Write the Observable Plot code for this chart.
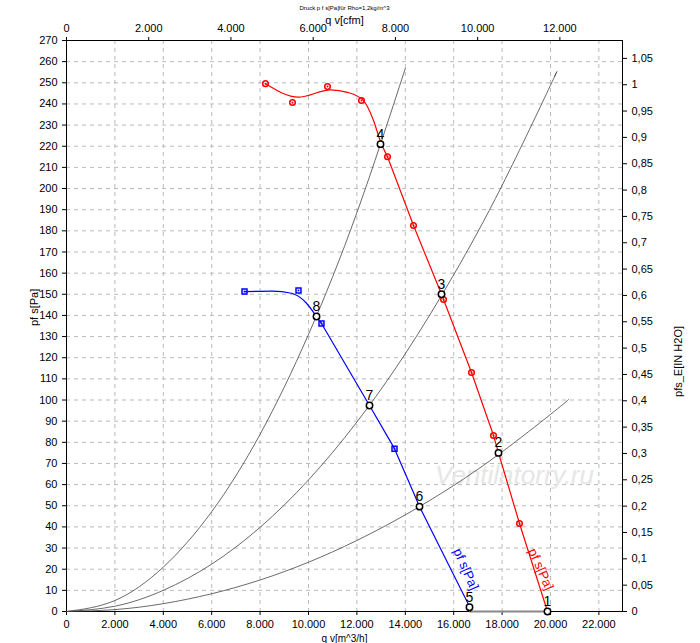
<!DOCTYPE html>
<html><head><meta charset="utf-8">
<script src="https://cdn.jsdelivr.net/npm/d3@7"></script>
<script src="https://cdn.jsdelivr.net/npm/@observablehq/plot@0.6"></script>
<style>body{margin:0;background:#fff;font-family:"Liberation Sans",Arial,sans-serif}</style>
</head><body><div id="c"></div>
<script>
const redHead = [[8223,249.5],[9587,243.2],[10909,246.7],[11612,245.5],[12273,241.6],[12686,232.2],[12975,222.2],[13264,215]];
const redTail = [[13264,215],[14339,182.5],[15496,150],[15579,147.5],[16736,113],[17645,83.2],[17851,75],[18719,41.6],[19876,0]];
const redMarks = [[8223,249.6],[9339,240.7],[10785,248.2],[12190,241.6],[13264,215],[14339,182.5],[15579,147.5],[16736,113],[17645,83.2],[18719,41.6]];
const blueHead = [[7355,151.3],[8500,151.5],[9300,150.5],[9900,146],[10331,139.5],[10537,136.2]];
const blueTail = [[10537,136.2],[12521,97.4],[13554,77],[14587,49.6],[16653,2.4],[16700,0]];
const blueMarks = [[7355,151.3],[9587,151.8],[10537,136.2],[13554,77]];
const sysA = [[0,0],[2000,5.2],[4000,21],[6000,47.2],[8000,83.8],[10000,131],[12000,188.6],[14000,256.8]];
const sysB = [[0,0],[2000,2.5],[4000,10],[6000,22.4],[8000,39.8],[10000,62.2],[12000,89.6],[14000,121.9],[16000,159.2],[18000,201.5],[20000,248.8],[20165,253]];
const sysC = [[0,0],[2000,0.9],[4000,3.7],[6000,8.4],[8000,14.9],[10000,23.3],[12000,33.6],[14000,45.7],[16000,59.6],[18000,75.5],[20000,93.2],[20744,100.2]];
const ops = [{n:"1",x:19876,y:0},{n:"2",x:17851,y:75},{n:"3",x:15496,y:150},{n:"4",x:12975,y:221},{n:"5",x:16653,y:2},{n:"6",x:14587,y:49.6},{n:"7",x:12521,y:97.4},{n:"8",x:10331,y:139.5}];
const xTicks = d3.range(0,22001,2000);
const yTicks = d3.range(0,271,10);
const cfmTicks = d3.range(0,12001,2000);
const inTicks = d3.range(0,1.0501,0.05);
const CFM = 1.699, INH2O = 249.09;
const fmtK = v => v===0?"0":d3.format(",")(v).replace(",",".");
const fmtIn = v => v===0?"0":d3.format(".2~f")(v).replace(".",",");
const P = a => a.map(([x,y])=>({x,y}));

const chart = Plot.plot({
  width:700, height:643, marginLeft:66, marginRight:78, marginTop:40, marginBottom:32,
  style:{fontFamily:"Liberation Sans, Arial, sans-serif", fontSize:"10px", color:"#000"},
  x:{domain:[0,22975]}, y:{domain:[0,270]},
  marks:[
    Plot.ruleX(xTicks.slice(1),{stroke:"#bbb",strokeDasharray:"4,4"}),
    Plot.ruleY(yTicks.slice(1),{stroke:"#bbb",strokeDasharray:"4,4"}),
    Plot.text(["Ventilatorry.ru"],{frameAnchor:"middle",dx:170,dy:150,fontSize:26,fill:"#e6e6e6",fontStyle:"italic"}),
    Plot.axisX({ticks:xTicks,tickFormat:fmtK,tickSize:4,label:null,fontSize:11}),
    Plot.axisX({anchor:"top",ticks:cfmTicks.map(v=>v*CFM),tickFormat:v=>fmtK(Math.round(v/CFM)),tickSize:4,label:null,fontSize:11}),
    Plot.axisY({ticks:yTicks,tickSize:4,label:null,fontSize:11}),
    Plot.axisY({anchor:"right",ticks:inTicks.map(v=>v*INH2O),tickFormat:v=>fmtIn(Math.round(v/INH2O*100)/100),tickSize:4,label:null,fontSize:11}),
    Plot.frame({stroke:"#000"}),
    Plot.line(P(sysA),{x:"x",y:"y",curve:"natural",stroke:"#444",strokeWidth:0.8}),
    Plot.line(P(sysB),{x:"x",y:"y",curve:"natural",stroke:"#444",strokeWidth:0.8}),
    Plot.line(P(sysC),{x:"x",y:"y",curve:"natural",stroke:"#444",strokeWidth:0.8}),
    Plot.ruleY([0],{x1:16653,x2:19876,stroke:"#888",strokeWidth:2}),
    Plot.line(P(redHead),{x:"x",y:"y",curve:"monotone-x",stroke:"red",strokeWidth:1.2}),
    Plot.line(P(redTail),{x:"x",y:"y",stroke:"red",strokeWidth:1.2}),
    Plot.line(P(blueHead),{x:"x",y:"y",curve:"monotone-x",stroke:"blue",strokeWidth:1.2}),
    Plot.line(P(blueTail),{x:"x",y:"y",stroke:"blue",strokeWidth:1.2}),
    Plot.dot(P(redMarks),{x:"x",y:"y",r:2.8,stroke:"red",fill:"none"}),
    Plot.dot(P(redMarks),{x:"x",y:"y",r:1,fill:"red"}),
    Plot.dot(P(blueMarks),{x:"x",y:"y",symbol:"square",r:2.8,stroke:"blue",fill:"none"}),
    Plot.dot(P(blueMarks),{x:"x",y:"y",symbol:"square",r:1,fill:"blue"}),
    Plot.dot(ops,{x:"x",y:"y",r:3.2,stroke:"#000",fill:"#fff"}),
    Plot.text(ops,{x:"x",y:"y",text:"n",dy:-10,fontSize:14}),
    Plot.text([{x:16500,y:20}],{x:"x",y:"y",text:()=>"pf s[Pa]",rotate:66,fill:"blue",fontSize:13}),
    Plot.text([{x:19600,y:20}],{x:"x",y:"y",text:()=>"pf s[Pa]",rotate:66,fill:"red",fontSize:13}),
    Plot.text(["q v[m^3/h]"],{frameAnchor:"bottom",dy:30,fontSize:10}),
    Plot.text(["q v[cfm]"],{frameAnchor:"top",dy:-24,fontSize:11}),
    Plot.text(["Druck p f s[Pa]für Rho=1,2kg/m^3"],{frameAnchor:"top",dy:-35,fontSize:6}),
    Plot.text(["pf s[Pa]"],{frameAnchor:"left",dx:-32,rotate:-90,fontSize:11}),
    Plot.text(["pfs_E[IN H2O]"],{frameAnchor:"right",dx:56,rotate:-90,fontSize:11})
  ]
});
document.getElementById("c").append(chart);
</script></body></html>
